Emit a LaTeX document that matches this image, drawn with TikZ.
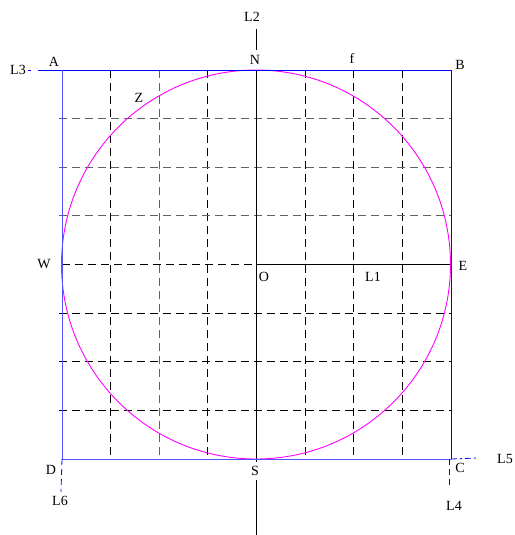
\documentclass[tikz,border=0pt]{standalone}
\usepackage{fontspec}
\setmainfont{Liberation Serif}
\definecolor{mag}{RGB}{255,0,255}
\definecolor{pblue}{RGB}{0,0,255}
\definecolor{lblue}{RGB}{80,80,255}
\begin{document}
\begin{tikzpicture}[x=1pt,y=-1pt,
  lbl/.style={font=\fontsize{14}{16}\selectfont, inner sep=0pt},
  frame/.style={pblue, line width=0.9pt},
  gridk/.style={black, dash pattern=on 8pt off 5pt, line width=0.9pt},
  gridg/.style={black!62, dash pattern=on 8pt off 5pt, line width=1.1pt},
  axis/.style={black, line width=0.8pt},
  circ/.style={mag, line width=0.9pt}]
\useasboundingbox (0,0) rectangle (514,535);
% corners
\coordinate (cA) at (62,70);
\coordinate (cB) at (451,70);
\coordinate (cC) at (451,459);
\coordinate (cD) at (62,459);
\coordinate (cO) at (256,264.5);
\coordinate (cN) at (256,70);
\coordinate (cS) at (256,459);
\coordinate (cW) at (62,264.5);
\coordinate (cE) at (451,264.5);
\coordinate (t3) at (38,70);
\coordinate (t2a) at (256,29);
\coordinate (t2b) at (256,50);
\coordinate (sb) at (256,462);
\coordinate (s2a) at (256,480);
\coordinate (s2b) at (256,535);
\coordinate (t5) at (477,458);
\coordinate (t4a) at (449,459);
\coordinate (t4b) at (449,488);
\coordinate (t6) at (61,492);
% grid
\foreach \i in {1,2,3,5,6,7}{
  \pgfmathsetmacro{\xx}{62+48.625*\i}
  \ifnum\i=2
    \draw[gridg] (\xx,70) -- (\xx,459);
  \else
    \draw[gridk] (\xx,70) -- (\xx,459);
  \fi
}
\foreach \j in {1,2,3}{
  \pgfmathsetmacro{\yy}{70+48.625*\j}
  \draw[gridg] (59,\yy) -- (451,\yy);
}
\foreach \j in {5,6,7}{
  \pgfmathsetmacro{\yy}{70+48.625*\j}
  \draw[gridk] (59,\yy) -- (451,\yy);
}
\draw[gridk] (cW) -- (cO);
\draw[axis] (cO) -- (cE);
% axes
\draw[axis] (cN) -- (sb);
\draw[axis] (t2a) -- (t2b);
\draw[axis] (s2a) -- (s2b);
% circle
\draw[circ] (cO) circle[radius=194.5];
% frame
\draw[frame] (t3) -- (cB) -- (cC);
\draw[lblue, line width=1pt] (cA) -- (cD) -- (cC);
\draw[pblue, line width=0.8pt] (28,70) -- (31,70);
\draw[pblue, line width=0.8pt, dash pattern=on 6pt off 3pt on 2pt off 3pt] (cC) -- (t5);
\draw[pblue, line width=0.8pt, dash pattern=on 6pt off 4pt] (t4a) -- (t4b);
\draw[pblue, line width=0.8pt, dash pattern=on 6pt off 4pt] (cD) -- (t6);
% labels
\node[lbl] (L3) at (18,70) {L3};
\node[lbl] (A) at (54,62) {A};
\node[lbl] (Z) at (139,98) {Z};
\node[lbl] (N) at (255,60) {N};
\node[lbl] (f) at (352,59) {f};
\node[lbl] (B) at (460,65) {B};
\node[lbl] (L2) at (252,17) {L2};
\node[lbl] (W) at (44,264) {W};
\node[lbl] (O) at (264,277) {O};
\node[lbl] (L1) at (373,277) {L1};
\node[lbl] (E) at (463,266) {E};
\node[lbl] (D) at (51,470) {D};
\node[lbl] (S) at (255,471) {S};
\node[lbl] (C) at (460,468) {C};
\node[lbl] (L5) at (505,459) {L5};
\node[lbl] (L4) at (454,506) {L4};
\node[lbl] (L6) at (60,501) {L6};
\end{tikzpicture}
\end{document}
